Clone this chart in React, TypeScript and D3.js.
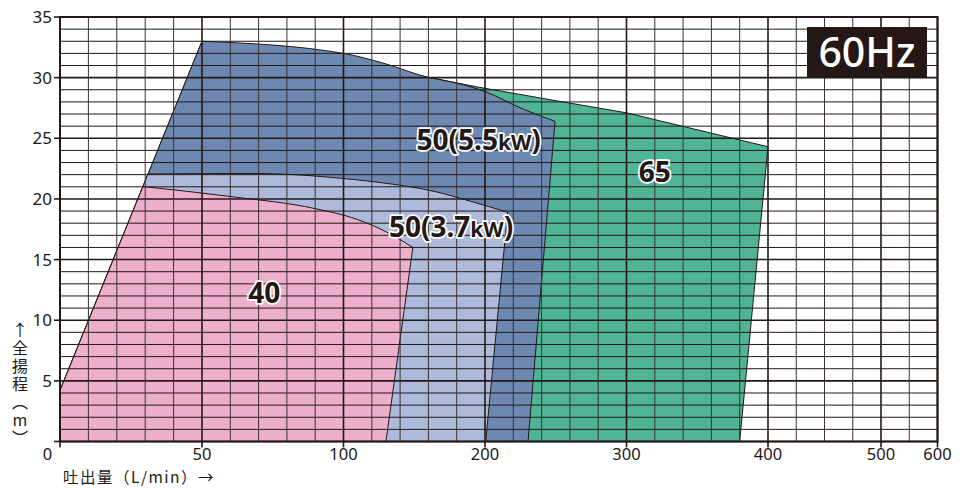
import React from "react";
import * as d3 from "d3";

// ---- data ----
const xTickValues = [0, 50, 100, 200, 300, 400, 500, 600];
const xTickPixels = [60, 202, 343.5, 485, 626.5, 768, 881, 937.5];
const yTickValues = [0, 5, 10, 15, 20, 25, 30, 35];

// grid (flow L/min, head m)
const xGridValues = [
  ...d3.range(0, 101, 10),
  ...d3.range(120, 401, 20),
  425, 450, 475, 500, 550, 600,
];
const yGridValues = d3.range(0, 36, 1);

// shared left boundary start [flow, head]
const leftStart: [number, number] = [0, 4.2];

// top boundaries of each region [flow, head]
const green65Top: [number, number][] = [
  [50, 33], [157, 30.1], [196, 29.2], [250, 28.1], [300, 27.1], [400, 24.3],
];
const blue55Top: [number, number][] = [
  [50, 33], [100, 32.0], [128, 31.2], [159, 30.05], [180, 29.55], [200, 28.85], [227, 27.4], [249.5, 26.4],
];
const blue37Top: [number, number][] = [
  [31, 22.06], [68, 22.1], [107, 21.6], [126, 21.35], [165, 20.6], [190, 19.8], [216, 18.9],
];
const pink40Top: [number, number][] = [
  [29.2, 21.02], [60, 20.2], [90, 19.2], [110, 18.3], [130, 17.3], [149, 16.0],
];
// flow where each region meets head 0
const green65End = 380;
const blue55End = 230.4;
const blue37End = 200.5;
const pink40End = 130;

const regions = [
  { top: green65Top, end: green65End, fill: "#4fb596", straight: true },
  { top: blue55Top, end: blue55End, fill: "#6d88b1", straight: false },
  { top: blue37Top, end: blue37End, fill: "#aebadb", straight: false },
  { top: pink40Top, end: pink40End, fill: "#eeafcc", straight: false },
];

const labels = [
  { main: "40", kw: "", tail: "", x: 72, y: 11.4 },
  { main: "50(3.7", kw: "kW", tail: ")", x: 176, y: 16.9 },
  { main: "50(5.5", kw: "kW", tail: ")", x: 195.5, y: 24.0 },
  { main: "65", kw: "", tail: "", x: 320, y: 21.4 },
];

const W = 970;
const H = 488;
const left = 60, right = 937.5, top = 17, bottom = 441.5;

export default function App() {
  const x = d3.scaleLinear().domain(xTickValues).range(xTickPixels);
  const y = d3.scaleLinear().domain([0, 35]).range([bottom, top]);
  const straightLine = d3
    .line<[number, number]>()
    .x((d) => x(d[0]))
    .y((d) => y(d[1]));
  const curveLine = d3
    .line<[number, number]>()
    .x((d) => x(d[0]))
    .y((d) => y(d[1]))
    .curve(d3.curveMonotoneX);

  const regionPath = (r: (typeof regions)[number], closed: boolean) => {
    const gen = r.straight ? straightLine : curveLine;
    const topStr = (gen(r.top) || "").replace(/^M/, "L");
    const start = closed
      ? `M${x(0)},${y(0)}L${x(leftStart[0])},${y(leftStart[1])}`
      : `M${x(leftStart[0])},${y(leftStart[1])}`;
    return `${start}${topStr}L${x(r.end)},${y(0)}${closed ? "Z" : ""}`;
  };

  const tickFont = "'Noto Sans', 'DejaVu Sans', sans-serif";
  const cjkFont = "'Noto Sans CJK JP', 'Noto Sans', sans-serif";

  return (
    <svg
      width={W}
      height={H}
      style={{ position: "absolute", left: 0, top: 0, background: "#fff" }}
    >
      {/* fills + outlines, layered */}
      {regions.map((r, i) => (
        <g key={"r" + i}>
          <path d={regionPath(r, true)} fill={r.fill} stroke="none" />
          <path d={regionPath(r, false)} fill="none" stroke="#231815" strokeWidth={1} />
        </g>
      ))}
      {/* grid */}
      {yGridValues.map((v) => (
        <line
          key={"gy" + v}
          x1={left}
          x2={right}
          y1={y(v)}
          y2={y(v)}
          stroke="#231815"
          strokeWidth={v % 5 === 0 ? 1.6 : 1}
        />
      ))}
      {xGridValues.map((v) => (
        <line
          key={"gx" + v}
          x1={x(v)}
          x2={x(v)}
          y1={top}
          y2={bottom}
          stroke={xTickValues.includes(v) ? "#231815" : "#3a3330"}
          strokeWidth={xTickValues.includes(v) ? 1.6 : 1}
        />
      ))}
      {/* frame */}
      <rect
        x={left}
        y={top}
        width={right - left}
        height={bottom - top}
        fill="none"
        stroke="#231815"
        strokeWidth={2}
      />
      {/* y ticks */}
      {yTickValues.map((v) => (
        <g key={"yt" + v}>
          <line x1={left - 6} x2={left} y1={y(v)} y2={y(v)} stroke="#231815" strokeWidth={1.6} />
          {v !== 0 && (
            <text
              x={52}
              y={y(v) + 6}
              textAnchor="end"
              fontFamily={tickFont}
              fontSize={17}
              fill="#231815"
            >
              {v}
            </text>
          )}
        </g>
      ))}
      {/* x ticks */}
      {xTickValues.map((v) => (
        <g key={"xt" + v}>
          <line x1={x(v)} x2={x(v)} y1={bottom} y2={bottom + 6} stroke="#231815" strokeWidth={1.6} />
          <text
            x={v === 0 ? 47.5 : x(v)}
            y={460}
            textAnchor="middle"
            fontFamily={tickFont}
            fontSize={16.5}
            fill="#231815"
          >
            {v}
          </text>
        </g>
      ))}
      {/* x axis title */}
      <text x={63} y={483} fontFamily={cjkFont} fontSize={15.5} letterSpacing={1.5} fill="#231815">
        吐出量（L/min）→
      </text>
      {/* y axis title (vertical) */}
      <text
        x={20}
        y={322}
        fontFamily={cjkFont}
        fontSize={16}
        fill="#231815"
        letterSpacing={2}
        style={{ writingMode: "vertical-rl", textOrientation: "upright" } as React.CSSProperties}
      >
        ↑全揚程（m）
      </text>
      {/* labels */}
      {labels.map((l, i) => (
        <text
          key={"l" + i}
          x={x(l.x)}
          y={y(l.y)}
          textAnchor="middle"
          fontFamily={tickFont}
          fontWeight={700}
          fontSize={28}
          fill="#231815"
          stroke="#ffffff"
          strokeWidth={3.5}
          strokeLinejoin="round"
          style={{ paintOrder: "stroke" }}
        >
          {l.main}
          {l.kw && <tspan fontSize={21}>{l.kw}</tspan>}
          {l.tail}
        </text>
      ))}
      {/* 60Hz badge */}
      <rect x={807} y={27} width={120} height={51} fill="#231815" />
      <text
        x={867}
        y={67}
        textAnchor="middle"
        fontFamily={tickFont}
        fontWeight={500}
        fontSize={41}
        fill="#ffffff"
      >
        60Hz
      </text>
    </svg>
  );
}
